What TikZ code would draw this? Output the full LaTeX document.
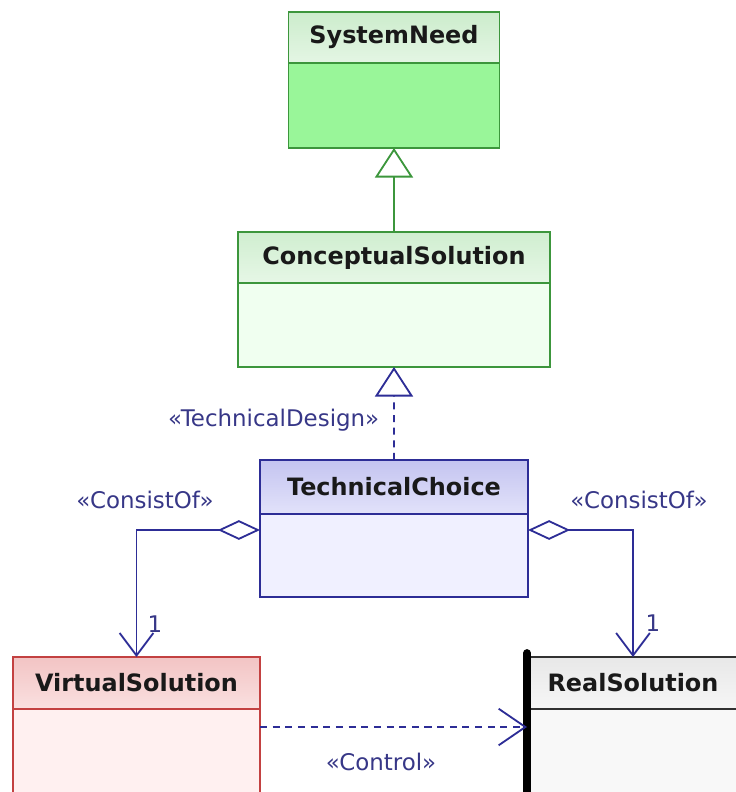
\documentclass[tikz,border=0pt]{standalone}
\usepackage{fontspec}
\setmainfont{DejaVu Sans}
\usetikzlibrary{positioning,arrows.meta}

\begin{document}
\begin{tikzpicture}[
  head/.style={draw, line width=1.3pt, outer sep=0pt, inner sep=0pt, anchor=north west,
    text=black!90, font=\fontsize{17}{20}\selectfont\bfseries},
  body/.style={draw, line width=1.3pt, outer sep=0pt, inner sep=0pt},
  stereo/.style={text=lblcol, font=\fontsize{16.3}{19}\selectfont},
  gen/.style={line width=1.3pt, -{Triangle[open,length=21pt,width=27pt]}},
  realize/.style={gen, dash pattern=on 5pt off 4pt},
  aggr/.style={line width=1.3pt, {Diamond[open,length=30pt,width=14pt]}-{Straight Barb[length=16pt,width=24pt]}},
  dep/.style={line width=1.3pt, dash pattern=on 5pt off 4pt, -{Straight Barb[length=19pt,width=26pt]}}
]

  \definecolor{greenline}{RGB}{60,150,60}
  \definecolor{blueline}{RGB}{45,45,150}
  \definecolor{redline}{RGB}{195,65,65}
  \definecolor{greyline}{RGB}{50,50,50}
  \definecolor{lblcol}{RGB}{55,55,135}

  \useasboundingbox (0,0) rectangle (18.4,-19.8);
  \clip (0,0) rectangle (18.4,-19.8);

  % system need
  \node[head, draw=greenline, top color={rgb,255:red,204;green,236;blue,204}, bottom color={rgb,255:red,228;green,246;blue,228},
    minimum width=5.275cm, minimum height=1.275cm] (sys) at (7.2125,-0.3) {SystemNeed};
  \node[body, draw=greenline, fill={rgb,255:red,153;green,246;blue,153},
    minimum width=5.275cm, minimum height=2.125cm, below=0pt of sys] (sysb) {};

  % conceptual solution
  \node[head, draw=greenline, top color={rgb,255:red,208;green,238;blue,208}, bottom color={rgb,255:red,230;green,247;blue,230},
    minimum width=7.8cm, minimum height=1.275cm] (con) at (5.95,-5.8) {ConceptualSolution};
  \node[body, draw=greenline, fill={rgb,255:red,240;green,255;blue,240},
    minimum width=7.8cm, minimum height=2.1cm, below=0pt of con] (conb) {};

  % technical choice
  \node[head, draw=blueline, top color={rgb,255:red,196;green,196;blue,240}, bottom color={rgb,255:red,226;green,226;blue,250},
    minimum width=6.7cm, minimum height=1.35cm] (tc) at (6.5,-11.5) {TechnicalChoice};
  \node[body, draw=blueline, fill={rgb,255:red,240;green,240;blue,255},
    minimum width=6.7cm, minimum height=2.075cm, below=0pt of tc] (tcb) {};

  % virtual solution
  \node[head, draw=redline, top color={rgb,255:red,242;green,196;blue,196}, bottom color={rgb,255:red,250;green,224;blue,224},
    minimum width=6.175cm, minimum height=1.3cm] (vs) at (0.325,-16.425) {VirtualSolution};
  \node[body, draw=redline, fill={rgb,255:red,255;green,240;blue,240},
    minimum width=6.175cm, minimum height=3.75cm, below=0pt of vs] (vsb) {};

  % real solution
  \node[head, draw=greyline, top color={rgb,255:red,232;green,232;blue,232}, bottom color={rgb,255:red,246;green,246;blue,246},
    minimum width=5.3cm, minimum height=1.3cm] (rs) at (13.175,-16.425) {RealSolution};
  \node[body, draw=greyline, fill={rgb,255:red,248;green,248;blue,248},
    minimum width=5.3cm, minimum height=3.75cm, below=0pt of rs] (rsb) {};
  \draw[line width=5.5pt, line cap=round] ([yshift=0.1cm]rs.north west) -- (rsb.south west);

  % generalization
  \draw[gen, greenline] (con.north) -- (sysb.south);

  % realization
  \draw[realize, blueline] (tc.north) -- (conb.south);
  \node[stereo] (lbldesign) at (6.84,-10.5) {«TechnicalDesign»};

  % aggregations
  \draw[aggr, blueline] ([yshift=-0.4cm]tcb.north west) -| (vs.north);
  \draw[aggr, blueline] ([yshift=-0.4cm]tcb.north east) -| (rs.north);
  \node[stereo] (lblconsl) at (3.625,-12.5) {«ConsistOf»};
  \node[stereo] (lblconsr) at (15.975,-12.5) {«ConsistOf»};
  \node[stereo] (mulvs) at (3.875,-15.6) {1};
  \node[stereo] (mulrs) at (16.325,-15.575) {1};

  % control
  \draw[dep, blueline] ([yshift=-0.45cm]vsb.north east) -- ([yshift=-0.45cm]rsb.north west);
  \node[stereo] (lblcontrol) at (9.525,-19.05) {«Control»};

\end{tikzpicture}
\end{document}
